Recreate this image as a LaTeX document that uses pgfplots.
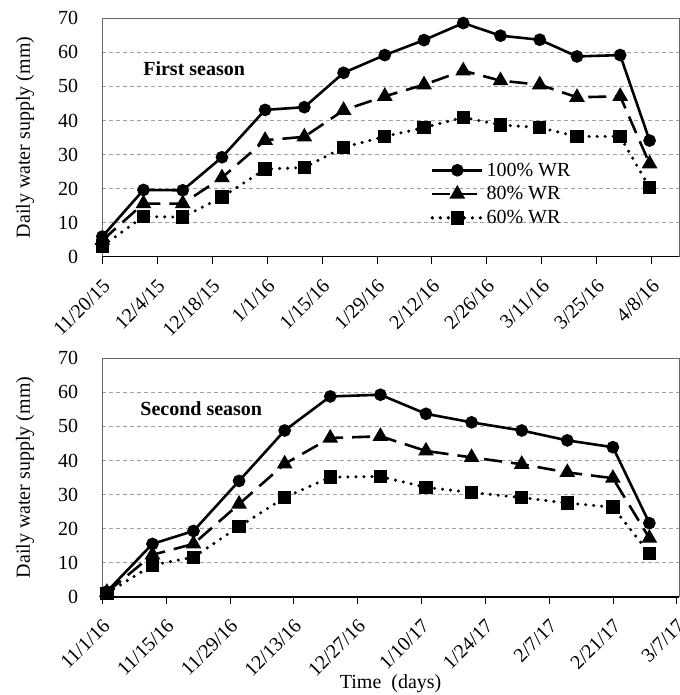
\documentclass[border=0pt]{standalone}
\usepackage{pgfplots}
\pgfplotsset{compat=1.18}
\usepackage{fontspec}
\setmainfont{Liberation Serif}
\pgfplotsset{
  every axis/.append style={font=\fontsize{20}{24}\selectfont},
  myaxis/.style={
    scale only axis, width=576.7pt, height=238.4pt,
    xmin=0, ymin=0, ymax=70, ytick={0,10,...,70},
    /pgf/number format/assume math mode=true,
    axis line style={draw=gray!80!black, line width=0.8pt},
    ymajorgrids, grid style={gray!75, dashed, line width=0.8pt, dash pattern=on 4pt off 3pt},
    ytick style={draw=none},
    xtick style={black, line width=0.8pt},
    tick align=outside, major tick length=7pt,
    xtick pos=bottom, ytick pos=left,
    yticklabel style={anchor=east, inner sep=0pt, xshift=-17pt},
    xticklabel style={xshift=5pt, yshift=-18pt, rotate=45, anchor=east, inner sep=1pt},
    ylabel={Daily water supply (mm)},
    ylabel style={at={(axis description cs:-0.134,0.5)}, anchor=center},
    clip=false,
  },
  s100/.style={black, line width=2.6pt, mark=*, mark size=5pt, mark options={solid}},
  s80/.style={black, line width=2.6pt, dash pattern=on 18pt off 9pt, mark=triangle*, mark size=6.5pt, mark options={solid}},
  s60/.style={black, line width=3.4pt, line cap=round, dash pattern=on 0pt off 8pt, mark=square*, mark size=5pt, mark options={solid}},
}
\begin{document}
\begin{tikzpicture}
\begin{axis}[myaxis, name=top, at={(0pt,0pt)}, anchor=south west, xmax=147,
  xtick={0,14,...,140},
  xticklabels={11/20/15,12/4/15,12/18/15,1/1/16,1/15/16,1/29/16,2/12/16,2/26/16,3/11/16,3/25/16,4/8/16},
  legend style={at={(0.569,0.405)}, anchor=north west, draw=none, fill=none, row sep=4pt, inner sep=0pt,
    nodes={inner sep=2.5pt}},
  legend cell align=left,
  legend image code/.code={\draw[#1] (0pt,0pt) -- (25pt,0pt) -- (50pt,0pt); \path[#1, mark repeat=2, mark phase=2] plot coordinates {(0pt,0pt) (25pt,0pt) (50pt,0pt)};},
]
\addplot[s100] coordinates {(0,5.9) (10.5,19.6) (20.5,19.5) (30.5,29.2) (41.5,43.1) (51.5,43.9) (61.5,54.0) (72,59.2) (82,63.6) (92,68.6) (101.5,64.9) (111.5,63.7) (121,58.8) (132,59.2) (139.5,34.1)};
\addlegendentry{100\% WR}
\addplot[s80] coordinates {(0,4.8) (10.5,15.6) (20.5,15.6) (30.5,23.2) (41.5,34.2) (51.5,35.2) (61.5,43.0) (72,47.1) (82,50.5) (92,54.6) (101.5,51.7) (111.5,50.5) (121,46.8) (132,47.1) (139.5,27.3)};
\addlegendentry{80\% WR}
\addplot[s60] coordinates {(0,3.1) (10.5,11.8) (20.5,11.6) (30.5,17.5) (41.5,25.7) (51.5,26.2) (61.5,32.1) (72,35.3) (82,37.9) (92,40.9) (101.5,38.7) (111.5,37.9) (121,35.3) (132,35.3) (139.5,20.3)};
\addlegendentry{60\% WR}
\draw[black, line width=1.6pt] (rel axis cs:0,0) -- (rel axis cs:1,0);
\node[anchor=west, font=\fontsize{20}{24}\selectfont\bfseries] at (rel axis cs:0.065,0.79) {First season};
\end{axis}
\begin{axis}[myaxis, at={(0pt,-340pt)}, anchor=south west, xmax=126.5,
  xtick={0,14,...,126},
  xticklabels={11/1/16,11/15/16,11/29/16,12/13/16,12/27/16,1/10/17,1/24/17,2/7/17,2/21/17,3/7/17},
  xlabel={Time\ \ (days)},
  xlabel style={at={(axis description cs:0.5,0)}, anchor=north, yshift=-74pt},
]
\addplot[s100] coordinates {(1,1.5) (11,15.5) (20,19.3) (30,34.0) (40,48.8) (50,58.8) (61,59.3) (71,53.7) (81,51.2) (92,48.8) (102,45.9) (112,43.9) (120,21.6)};
\addplot[s80] coordinates {(1,1.3) (11,12.3) (20,15.5) (30,27.2) (40,39.0) (50,46.6) (61,47.1) (71,42.8) (81,40.9) (92,38.9) (102,36.5) (112,34.8) (120,17.2)};
\addplot[s60] coordinates {(1,1.0) (11,9.3) (20,11.6) (30,20.6) (40,29.1) (50,35.1) (61,35.3) (71,32.1) (81,30.6) (92,29.1) (102,27.5) (112,26.3) (120,12.7)};
\draw[black, line width=1.6pt] (rel axis cs:0,0) -- (rel axis cs:1,0);
\node[anchor=west, font=\fontsize{20}{24}\selectfont\bfseries] at (rel axis cs:0.06,0.79) {Second season};
\end{axis}
\pgfresetboundingbox
\useasboundingbox (-102.3pt,-438.3pt) rectangle (576.7pt,256.7pt);
\end{tikzpicture}
\end{document}
